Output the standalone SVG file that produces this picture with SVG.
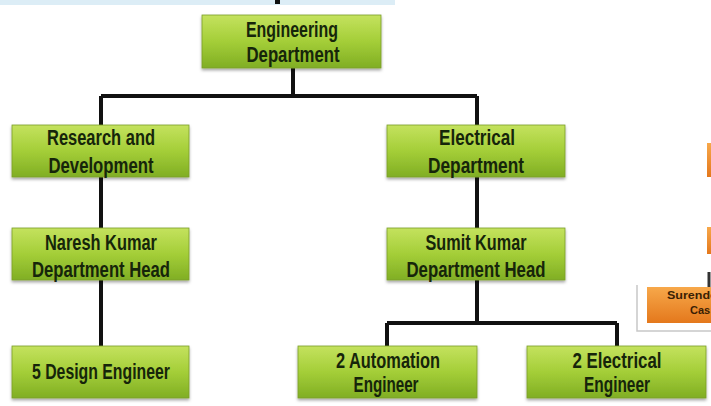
<svg xmlns="http://www.w3.org/2000/svg" width="711" height="406" viewBox="0 0 711 406">
<defs>
<linearGradient id="g" x1="0" y1="0" x2="0" y2="1">
<stop offset="0" stop-color="#c4e25e"/>
<stop offset="0.5" stop-color="#a4ce38"/>
<stop offset="1" stop-color="#80ae24"/>
</linearGradient>
<linearGradient id="o" x1="0" y1="0" x2="0" y2="1">
<stop offset="0" stop-color="#f7a84a"/>
<stop offset="1" stop-color="#e4781c"/>
</linearGradient>
<filter id="sh" x="-10%" y="-10%" width="120%" height="130%">
<feDropShadow dx="0" dy="2" stdDeviation="1.5" flood-color="#000" flood-opacity="0.35"/>
</filter>
<clipPath id="clipR"><rect x="0" y="0" width="711" height="406"/></clipPath>
</defs>
<style>
.box{fill:url(#g);stroke:#7a9e2a;stroke-width:0.8;filter:url(#sh)}
.t{font-family:"Liberation Sans",Arial,sans-serif;font-weight:bold;font-size:22px;fill:#16250a;text-anchor:middle}
.c{fill:none;stroke:#111;stroke-width:4}
.ot{font-family:"Liberation Sans",Arial,sans-serif;font-weight:bold;font-size:11px;fill:#3a1e04}
</style>
<rect width="711" height="406" fill="#fff"/>
<rect x="0" y="0" width="395" height="5" fill="#dcedf6"/>
<rect x="275" y="0" width="5" height="4" fill="#111"/>

<g id="connectors">
<path class="c" d="M293 68V96M101 96H477M101 96V125M477 96V125"/>
<path class="c" d="M101 177V228M101 280V346"/>
<path class="c" d="M477 177V228M477 280V323M387 323H617M387 323V346M617 323V346"/>
<path d="M709 272V290" stroke="#333" stroke-width="3"/>
</g>

<g id="n-engineering">
<rect class="box" x="202" y="15" width="179" height="53"/>
<text class="t" x="292" y="37" textLength="92" lengthAdjust="spacingAndGlyphs">Engineering</text>
<text class="t" x="293" y="62" textLength="93" lengthAdjust="spacingAndGlyphs">Department</text>
</g>
<g id="n-research">
<rect class="box" x="12" y="125" width="177" height="52"/>
<text class="t" x="101" y="145" textLength="108" lengthAdjust="spacingAndGlyphs">Research and</text>
<text class="t" x="101" y="173" textLength="105" lengthAdjust="spacingAndGlyphs">Development</text>
</g>
<g id="n-naresh">
<rect class="box" x="12" y="228" width="177" height="52"/>
<text class="t" x="101" y="250" textLength="112" lengthAdjust="spacingAndGlyphs">Naresh Kumar</text>
<text class="t" x="101" y="277" textLength="138" lengthAdjust="spacingAndGlyphs">Department Head</text>
</g>
<g id="n-design">
<rect class="box" x="12" y="346" width="177" height="52"/>
<text class="t" x="101" y="379" textLength="138" lengthAdjust="spacingAndGlyphs">5 Design Engineer</text>
</g>
<g id="n-electrical">
<rect class="box" x="387" y="125" width="178" height="52"/>
<text class="t" x="477" y="145" textLength="76" lengthAdjust="spacingAndGlyphs">Electrical</text>
<text class="t" x="476" y="173" textLength="96" lengthAdjust="spacingAndGlyphs">Department</text>
</g>
<g id="n-sumit">
<rect class="box" x="387" y="228" width="178" height="52"/>
<text class="t" x="476" y="250" textLength="101" lengthAdjust="spacingAndGlyphs">Sumit Kumar</text>
<text class="t" x="476" y="277" textLength="139" lengthAdjust="spacingAndGlyphs">Department Head</text>
</g>
<g id="n-automation">
<rect class="box" x="298" y="346" width="179" height="52"/>
<text class="t" x="388" y="368" textLength="104" lengthAdjust="spacingAndGlyphs">2 Automation</text>
<text class="t" x="386" y="392" textLength="65" lengthAdjust="spacingAndGlyphs">Engineer</text>
</g>
<g id="n-elec-eng">
<rect class="box" x="527" y="346" width="179" height="52"/>
<text class="t" x="617" y="368" textLength="89" lengthAdjust="spacingAndGlyphs">2 Electrical</text>
<text class="t" x="617" y="392" textLength="66" lengthAdjust="spacingAndGlyphs">Engineer</text>
</g>

<g id="inset">
<path d="M637 285V331H711" fill="none" stroke="#c8c8c8" stroke-width="1.5"/>
<rect x="707" y="143" width="6" height="34" fill="url(#o)"/>
<rect x="707" y="227" width="6" height="27" fill="url(#o)"/>
<rect x="647" y="287" width="66" height="36" fill="url(#o)"/>
<g clip-path="url(#clipR)">
<text class="ot" x="667" y="299" textLength="50" lengthAdjust="spacingAndGlyphs">Surende</text>
<text class="ot" x="690" y="314">Cas</text>
</g>
</g>
</svg>
